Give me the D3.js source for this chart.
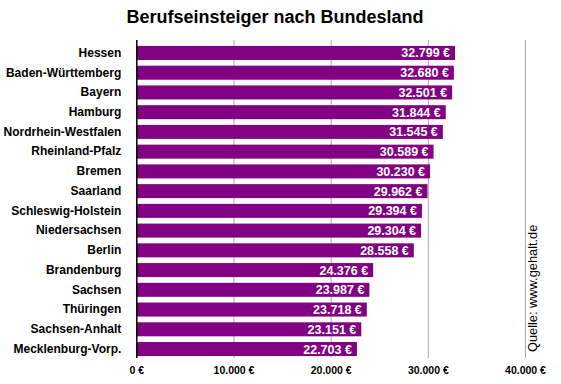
<!DOCTYPE html>
<html>
<head>
<meta charset="utf-8">
<script src="https://cdn.jsdelivr.net/npm/d3@7"></script>
<style>
  body { margin: 0; background: #fff; }
  text { font-family: "Liberation Sans", Arial, sans-serif; }
</style>
</head>
<body>
<div id="chart"></div>
<script>
// data
var states = ["Hessen", "Baden-Württemberg", "Bayern", "Hamburg", "Nordrhein-Westfalen",
  "Rheinland-Pfalz", "Bremen", "Saarland", "Schleswig-Holstein", "Niedersachsen", "Berlin",
  "Brandenburg", "Sachsen", "Thüringen", "Sachsen-Anhalt", "Mecklenburg-Vorp."];
var salaries = [32799, 32680, 32501, 31844, 31545, 30589, 30230, 29962, 29394, 29304, 28558,
  24376, 23987, 23718, 23151, 22703];
var xTicks = [0, 10000, 20000, 30000, 40000];

var W = 561, H = 384;
var margin = {top: 43, left: 136.3, right: 36, bottom: 26};

var de = d3.formatLocale({decimal: ",", thousands: ".", grouping: [3], currency: ["", " €"]});
var fmt = function(v) { return de.format(",.0f")(v) + " €"; };

var svg = d3.select("#chart").append("svg")
  .attr("width", W)
  .attr("height", H);

svg.append("text")
  .attr("x", 275)
  .attr("y", 23)
  .attr("text-anchor", "middle")
  .attr("font-size", 18)
  .attr("font-weight", "bold")
  .text("Berufseinsteiger nach Bundesland");

var x = d3.scaleLinear().domain([0, 40000]).range([0, 388.7]);
var y = d3.scaleBand().domain(states).range([0, 316]).paddingInner(0.29).paddingOuter(0.15);

var g = svg.append("g")
  .attr("transform", "translate(" + margin.left + "," + margin.top + ")");

// grid lines
g.selectAll(".grid")
  .data(xTicks.slice(1))
  .enter().append("line")
    .attr("class", "grid")
    .attr("x1", d => x(d) + 0.5)
    .attr("x2", d => x(d) + 0.5)
    .attr("y1", -3)
    .attr("y2", 315)
    .attr("stroke", "#a8a8a8")
    .attr("stroke-width", 1);

// bars
g.selectAll(".bar")
  .data(states)
  .enter().append("rect")
    .attr("class", "bar")
    .attr("x", 0)
    .attr("y", d => y(d))
    .attr("width", (d, i) => x(salaries[i]))
    .attr("height", y.bandwidth())
    .attr("fill", "#820082");

// value labels
g.selectAll(".val")
  .data(states)
  .enter().append("text")
    .attr("class", "val")
    .attr("x", (d, i) => x(salaries[i]) - 5)
    .attr("y", d => y(d) + y.bandwidth() / 2)
    .attr("dy", "0.36em")
    .attr("text-anchor", "end")
    .attr("fill", "#fff")
    .attr("font-size", 12.5)
    .attr("font-weight", "bold")
    .text((d, i) => fmt(salaries[i]));

// category labels
var yAxis = d3.axisLeft(y).tickSize(0).tickPadding(15);
var ya = g.append("g").call(yAxis);
ya.select(".domain").remove();
ya.selectAll("text")
  .attr("font-size", 12)
  .attr("font-weight", "bold")
  .attr("fill", "#000");

// zero axis line
g.append("line")
  .attr("x1", 0.5).attr("x2", 0.5)
  .attr("y1", -3).attr("y2", 315)
  .attr("stroke", "#000")
  .attr("stroke-width", 1.5);

// x tick labels
var xAxis = d3.axisBottom(x).tickValues(xTicks).tickSize(0).tickPadding(0).tickFormat(fmt);
var xa = g.append("g")
  .attr("transform", "translate(0," + 324 + ")")
  .call(xAxis);
xa.select(".domain").remove();
xa.selectAll("text")
  .attr("font-size", 10.5)
  .attr("font-weight", "bold")
  .attr("fill", "#000")
  .attr("dy", "0.71em");

// source
svg.append("text")
  .attr("transform", "translate(537,352) rotate(-90)")
  .attr("font-size", 12.8)
  .attr("fill", "#000")
  .text("Quelle: www.gehalt.de");
</script>
</body>
</html>
